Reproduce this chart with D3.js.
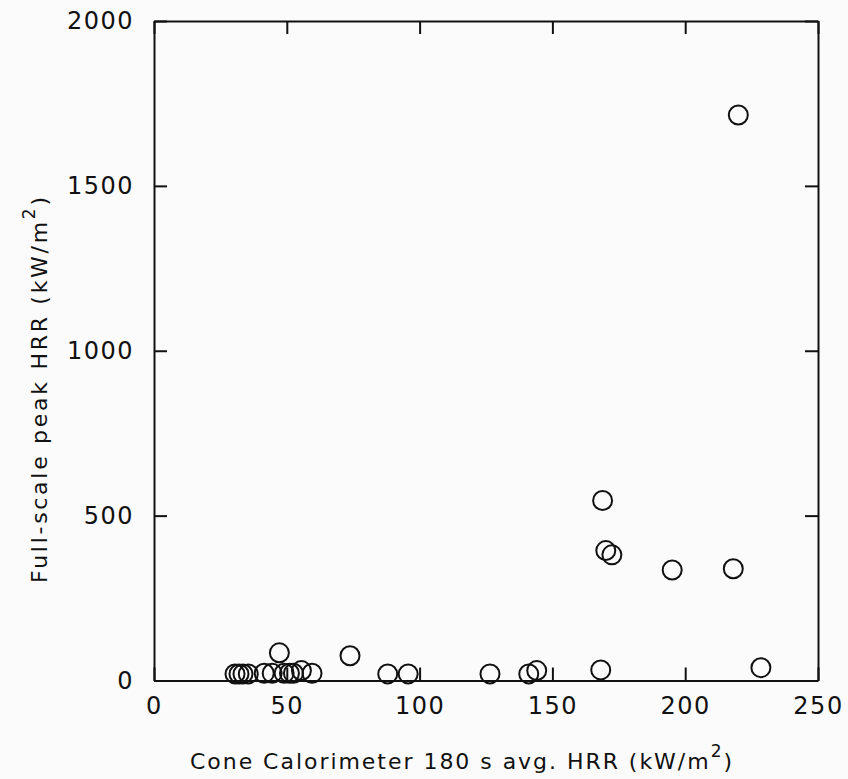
<!DOCTYPE html>
<html>
<head>
<meta charset="utf-8">
<script src="https://cdn.jsdelivr.net/npm/d3@7"></script>
<style>
  html, body { margin: 0; padding: 0; background: #fbfbfb; }
  svg { display: block; }
  text { font-family: "DejaVu Sans", sans-serif; fill: #111; }
</style>
</head>
<body>
<svg id="chart" width="848" height="779"></svg>
<script>
// ---- data ----
const coneHRR = [30.5, 32, 33.5, 35.5, 41.5, 44.5, 47.2, 49, 51, 52.5, 55.5, 59.5,
                 73.8, 88, 95.7, 126.5, 141.1, 144.1, 168.2, 168.9, 170.1, 172.4,
                 195.1, 218.1, 220, 228.5];
const fullScalePeak = [20, 20, 20, 20, 22, 22, 84, 22, 22, 22, 30, 22,
                       75, 20, 20, 20, 20, 30, 32, 546, 394, 381,
                       335, 339, 1715, 39];
const xTicks = [0, 50, 100, 150, 200, 250];
const yTicks = [0, 500, 1000, 1500, 2000];
const xTitle = "Cone Calorimeter 180 s avg. HRR (kW/m";
const yTitle = "Full-scale peak HRR (kW/m";

// ---- layout ----
const L = 154, R = 818, T = 21, B = 680.5;
const svg = d3.select("#chart");
const x = d3.scaleLinear().domain([0, 250]).range([L, R]);
const y = d3.scaleLinear().domain([0, 2000]).range([B, T]);
const tick = 13;
const fmt = d3.format("d");

function styleAxis(g) {
  g.selectAll(".domain").attr("stroke", "#111").attr("stroke-width", 2);
  g.selectAll(".tick line").attr("stroke", "#111").attr("stroke-width", 2);
  g.selectAll(".tick text").attr("font-size", 24).attr("letter-spacing", "1.5px")
    .attr("font-family", "DejaVu Sans, sans-serif").attr("fill", "#111");
}

svg.append("g").attr("transform", `translate(0,${B})`)
  .call(d3.axisBottom(x).tickValues(xTicks).tickFormat(fmt).tickSizeInner(-tick).tickSizeOuter(0).tickPadding(16))
  .call(styleAxis);
svg.append("g").attr("transform", `translate(0,${T})`)
  .call(d3.axisTop(x).tickValues(xTicks).tickSizeInner(-tick).tickSizeOuter(0).tickFormat(""))
  .call(styleAxis);
svg.append("g").attr("transform", `translate(${L},0)`)
  .call(d3.axisLeft(y).tickValues(yTicks).tickFormat(fmt).tickSizeInner(-tick).tickSizeOuter(0).tickPadding(20))
  .call(styleAxis);
svg.append("g").attr("transform", `translate(${R},0)`)
  .call(d3.axisRight(y).tickValues(yTicks).tickSizeInner(-tick).tickSizeOuter(0).tickFormat(""))
  .call(styleAxis);

// ---- points ----
svg.append("g").selectAll("circle")
  .data(coneHRR.map((v, i) => [v, fullScalePeak[i]]))
  .join("circle")
  .attr("cx", d => x(d[0]))
  .attr("cy", d => y(d[1]))
  .attr("r", 9.5)
  .attr("fill", "none")
  .attr("stroke", "#111")
  .attr("stroke-width", 2);

// ---- axis titles ----
function fit(textSel, target) {
  const node = textSel.node();
  const n = node.textContent.length;
  const len = node.getComputedTextLength();
  textSel.style("letter-spacing", ((target - len) / (n - 1)) + "px");
}

const xt = svg.append("text").attr("x", 190).attr("y", 769).attr("font-size", 22);
xt.append("tspan").text(xTitle);
xt.append("tspan").attr("dy", -12).attr("font-size", 17).text("2");
xt.append("tspan").attr("dy", 12).text(")");
fit(xt, 542);

const yt = svg.append("text").attr("transform", "translate(47,583) rotate(-90)").attr("font-size", 22);
yt.append("tspan").text(yTitle);
yt.append("tspan").attr("dy", -12).attr("font-size", 17).text("2");
yt.append("tspan").attr("dy", 12).text(")");
fit(yt, 386);
</script>
</body>
</html>
